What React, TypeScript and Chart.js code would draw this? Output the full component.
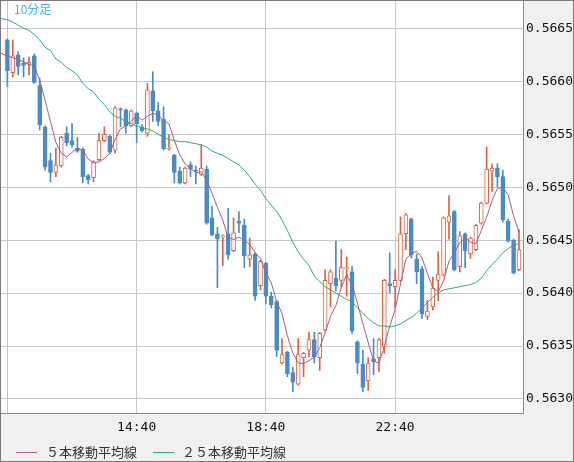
import React, { useEffect, useRef } from 'react';
import { Chart, registerables } from 'chart.js';

Chart.register(...registerables);

const chartTitle = '10分足';
const legendLabels = ['５本移動平均線', '２５本移動平均線'];
const xTickIndex = [0, 24, 48, 72];
const xTickLabels = ['', '14:40', '18:40', '22:40'];
const yTicks = [0.563, 0.5635, 0.564, 0.5645, 0.565, 0.5655, 0.566, 0.5665];

const opens = [
  0.56639, 0.56608, 0.56625, 0.56617, 0.56616, 0.56624, 0.56596, 0.56557, 0.56525, 0.56514,
  0.5652, 0.56551, 0.56544, 0.56537, 0.56536, 0.56511, 0.56509, 0.56526, 0.56544, 0.56548,
  0.56535, 0.56574, 0.56573, 0.56558, 0.5657, 0.56557, 0.56551, 0.56591, 0.56572, 0.56564,
  0.56536, 0.5653, 0.56515, 0.56504, 0.56521, 0.56516, 0.56512, 0.56517, 0.56471, 0.56456,
  0.56453, 0.56456, 0.5644, 0.56468, 0.56464, 0.56432, 0.56437, 0.56407, 0.56428, 0.56397,
  0.56392, 0.56334, 0.56344, 0.56325, 0.56314, 0.56339, 0.56346, 0.56356, 0.56339, 0.56365,
  0.56409, 0.56414, 0.56412, 0.56423, 0.5642, 0.56354, 0.56333, 0.56317, 0.56338, 0.56339,
  0.56349, 0.56409, 0.56406, 0.56412, 0.56456, 0.5647, 0.56432, 0.56423, 0.56378, 0.56387,
  0.56412, 0.56417, 0.56467, 0.56477, 0.56425, 0.56456, 0.56437, 0.56441, 0.56466, 0.56485,
  0.56515, 0.56518, 0.5651, 0.56468, 0.5645, 0.56422,
];

const closes = [
  0.5661, 0.56624, 0.56614, 0.56615, 0.56618, 0.56599, 0.56559, 0.56519, 0.56514, 0.56521,
  0.56547, 0.56542, 0.5654, 0.56534, 0.5651, 0.56507, 0.56524, 0.56544, 0.5655, 0.56533,
  0.56575, 0.56573, 0.56558, 0.56572, 0.5656, 0.56553, 0.56592, 0.56572, 0.56562, 0.56536,
  0.56537, 0.56514, 0.56504, 0.56518, 0.56517, 0.56515, 0.56518, 0.56466, 0.56455, 0.56451,
  0.56454, 0.56436, 0.56457, 0.56466, 0.56435, 0.56436, 0.56397, 0.5643, 0.56397, 0.56389,
  0.56346, 0.56342, 0.56324, 0.56316, 0.56342, 0.56343, 0.56356, 0.5634, 0.56362, 0.56412,
  0.5642, 0.56407, 0.56424, 0.56424, 0.56364, 0.56334, 0.56311, 0.56334, 0.56335, 0.56356,
  0.56412, 0.56407, 0.56412, 0.56456, 0.56474, 0.56436, 0.5642, 0.5638, 0.56383, 0.56405,
  0.56418, 0.56471, 0.56473, 0.56422, 0.56454, 0.5644, 0.56452, 0.56464, 0.56485, 0.56517,
  0.56518, 0.5651, 0.56469, 0.56449, 0.56419, 0.56441,
];

const highs = [
  0.5664, 0.56639, 0.56628, 0.56622, 0.56623, 0.56626, 0.56603, 0.56558, 0.56532, 0.56537,
  0.56548, 0.56557, 0.5656, 0.56547, 0.56537, 0.56512, 0.56525, 0.56551, 0.56557, 0.56549,
  0.56576, 0.56575, 0.56574, 0.56573, 0.56571, 0.56559, 0.56598, 0.56609, 0.5658, 0.56576,
  0.5655, 0.56531, 0.56519, 0.56519, 0.56524, 0.5652, 0.5654, 0.5652, 0.56482, 0.56462,
  0.56455, 0.5648, 0.56471, 0.56477, 0.5647, 0.56452, 0.56438, 0.56431, 0.56429, 0.56401,
  0.56393, 0.56357, 0.56345, 0.5633, 0.56357, 0.56344, 0.56363, 0.56363, 0.56363, 0.56422,
  0.56422, 0.56449, 0.56441, 0.56434, 0.56425, 0.56355, 0.56346, 0.56339, 0.56357, 0.56357,
  0.56413, 0.56438, 0.56422, 0.56472, 0.56475, 0.56471, 0.56437, 0.56425, 0.56393, 0.56415,
  0.56439, 0.56472, 0.56492, 0.56478, 0.56458, 0.56457, 0.56453, 0.56465, 0.56486, 0.56538,
  0.56522, 0.56522, 0.56516, 0.5647, 0.56451, 0.5646,
];

const lows = [
  0.56595, 0.56604, 0.56606, 0.56604, 0.56606, 0.56598, 0.56554, 0.56516, 0.56505, 0.5651,
  0.56519, 0.56539, 0.56538, 0.56533, 0.56504, 0.56503, 0.56505, 0.56525, 0.56543, 0.56532,
  0.56532, 0.56557, 0.56551, 0.56557, 0.56542, 0.56552, 0.56548, 0.56562, 0.56558, 0.56535,
  0.56535, 0.56504, 0.56503, 0.56503, 0.5651, 0.56503, 0.56511, 0.56465, 0.56454, 0.56405,
  0.56426, 0.56432, 0.56439, 0.56457, 0.56424, 0.56425, 0.56393, 0.56403, 0.5639, 0.56386,
  0.5634, 0.56333, 0.56321, 0.56307, 0.56313, 0.56321, 0.5634, 0.56334, 0.56327, 0.56364,
  0.56387, 0.56402, 0.56406, 0.56397, 0.56362, 0.56324, 0.56307, 0.56308, 0.56323, 0.56326,
  0.56343, 0.564, 0.56386, 0.56411, 0.56441, 0.56433, 0.56409, 0.56376, 0.56375, 0.56384,
  0.56393, 0.56416, 0.56451, 0.56421, 0.5642, 0.56424, 0.56433, 0.5644, 0.56465, 0.56484,
  0.56496, 0.565, 0.56467, 0.56448, 0.56418, 0.56421,
];

// 5-period MA values before enough closes are on screen (indices -2..3)
const ma5Lead = [0.56628, 0.56626, 0.56624, 0.56622, 0.56621, 0.56618];

// 25-period MA, indices -2..95
const ma25 = [
  0.5666, 0.56659, 0.56658, 0.56656, 0.56653, 0.5665, 0.56648, 0.56644, 0.56639, 0.56632,
  0.56629, 0.56621, 0.56618, 0.56613, 0.5661, 0.56606, 0.56598, 0.56593, 0.5659, 0.56583,
  0.56578, 0.56571, 0.56567, 0.56565, 0.56562, 0.5656, 0.56558, 0.56556, 0.56555, 0.56553,
  0.5655, 0.56547, 0.56545, 0.56544, 0.56543, 0.56543, 0.56542, 0.56541, 0.5654, 0.56538,
  0.56534, 0.56532, 0.5653, 0.56527, 0.56524, 0.56521, 0.56516, 0.5651, 0.56503, 0.56497,
  0.56489, 0.56483, 0.56477, 0.56469, 0.56459, 0.56448, 0.56439, 0.56432, 0.56426, 0.56416,
  0.56411, 0.56406, 0.56403, 0.564, 0.56397, 0.56394, 0.56392, 0.56386, 0.56381, 0.56376,
  0.56372, 0.56369, 0.56369, 0.56368, 0.56369, 0.56371, 0.56374, 0.56377, 0.56381, 0.56386,
  0.56391, 0.56396, 0.564, 0.56403, 0.56404, 0.56405, 0.56406, 0.56407, 0.56408, 0.5641,
  0.56414, 0.56421, 0.56427, 0.56432, 0.56438, 0.56442, 0.56445, 0.56447,
];

const UP = '#de6242';
const DOWN = '#4a8bc3';
const MA5_COLOR = '#b05887';
const MA25_COLOR = '#26b078';
const TITLE_COLOR = '#3ab4f2';
const GRID = '#c8c8c8';
const AXIS_BORDER = '#8c8c8c';
const MONO = '"DejaVu Sans Mono", monospace';
const CJK = '"Noto Sans CJK JP", sans-serif';

const decorPlugin = {
  id: 'decor',
  beforeDraw(c: any) {
    const { ctx, width, height, chartArea: a } = c;
    ctx.save();
    ctx.fillStyle = '#f0f0f0';
    ctx.fillRect(0, 0, width, height);
    ctx.fillStyle = '#ffffff';
    ctx.fillRect(a.left, a.top, a.right - a.left, a.bottom - a.top);
    ctx.restore();
  },
  afterDraw(c: any) {
    const { ctx, width, height } = c;
    ctx.save();
    // title
    ctx.font = `12px ${CJK}`;
    ctx.fillStyle = TITLE_COLOR;
    ctx.textBaseline = 'middle';
    ctx.textAlign = 'left';
    ctx.fillText(chartTitle, 14, 9.5);
    // legend
    const lineX = [16, 153];
    const textX = [46, 182];
    const colors = [MA5_COLOR, MA25_COLOR];
    ctx.font = `13px ${CJK}`;
    legendLabels.forEach((lab, k) => {
      ctx.strokeStyle = colors[k];
      ctx.lineWidth = 1;
      ctx.beginPath();
      ctx.moveTo(lineX[k], 452.5);
      ctx.lineTo(lineX[k] + 21, 452.5);
      ctx.stroke();
      ctx.fillStyle = '#333333';
      ctx.fillText(lab, textX[k], 452.5);
    });
    // outer frame
    ctx.strokeStyle = '#7a7a7a';
    ctx.lineWidth = 1;
    ctx.strokeRect(0.5, 0.5, width - 1, height - 1);
    ctx.restore();
  },
};

export default function App() {
  const ref = useRef<HTMLCanvasElement>(null);

  useEffect(() => {
    document.body.style.margin = '0';
    const idx = opens.map((_, i) => i);
    const isUp = idx.map((i) => closes[i] >= opens[i]);
    const bodies = idx.map((i) => ({ x: i, y: [opens[i], closes[i]] }));
    const wicks = idx.map((i) => ({ x: i, y: [lows[i], highs[i]] }));
    const ma5Pts = [
      ...ma5Lead.map((v, k) => ({ x: k - 2, y: v })),
      ...idx
        .filter((i) => i >= 4)
        .map((i) => ({ x: i, y: closes.slice(i - 4, i + 1).reduce((s, v) => s + v, 0) / 5 })),
    ];
    const ma25Pts = ma25.map((v, k) => ({ x: k - 2, y: v }));

    const chart = new Chart(ref.current as HTMLCanvasElement, {
      type: 'bar',
      data: {
        datasets: [
          {
            type: 'line',
            label: legendLabels[1],
            data: ma25Pts,
            borderColor: MA25_COLOR,
            borderWidth: 1,
            pointRadius: 0,
            tension: 0,
            order: 0,
          } as any,
          {
            type: 'line',
            label: legendLabels[0],
            data: ma5Pts,
            borderColor: MA5_COLOR,
            borderWidth: 1,
            pointRadius: 0,
            tension: 0,
            order: 1,
          } as any,
          {
            type: 'bar',
            label: 'body',
            data: bodies,
            backgroundColor: idx.map((i) => (isUp[i] ? '#ffffff' : DOWN)),
            borderColor: idx.map((i) => (isUp[i] ? UP : DOWN)),
            borderWidth: 1,
            borderSkipped: false,
            barThickness: 4,
            minBarLength: 1,
            grouped: false,
            order: 2,
          } as any,
          {
            type: 'bar',
            label: 'wick',
            data: wicks,
            backgroundColor: idx.map((i) => (isUp[i] ? UP : DOWN)),
            borderWidth: 0,
            barThickness: 1,
            grouped: false,
            order: 3,
          } as any,
        ],
      },
      options: {
        responsive: false,
        animation: false,
        devicePixelRatio: 1,
        events: [],
        layout: { padding: { left: 1, top: 1, right: 0, bottom: 30 } },
        plugins: {
          legend: { display: false },
          tooltip: { enabled: false },
          title: { display: false },
        },
        scales: {
          x: {
            type: 'linear',
            min: -1.19,
            max: 95.75,
            offset: false,
            grid: { offset: false, color: GRID, drawTicks: false, lineWidth: 1 },
            border: { color: AXIS_BORDER },
            ticks: {
              autoSkip: false,
              maxRotation: 0,
              minRotation: 0,
              padding: 7,
              color: '#111111',
              font: { family: MONO, size: 13 },
              callback: (_v: any, i: number) => xTickLabels[i] ?? '',
            },
            afterBuildTicks: (s: any) => {
              s.ticks = xTickIndex.map((v) => ({ value: v }));
            },
            afterFit: (s: any) => {
              s.height = 19;
              s.paddingLeft = 0;
              s.paddingRight = 0;
            },
          },
          y: {
            type: 'linear',
            position: 'right',
            min: 0.5628678,
            max: 0.5667577,
            grid: { color: GRID, drawTicks: false, lineWidth: 1 },
            border: { color: AXIS_BORDER },
            ticks: {
              padding: 3,
              color: '#111111',
              font: { family: MONO, size: 13 },
              callback: (v: any) => Number(v).toFixed(4),
            },
            afterBuildTicks: (s: any) => {
              s.ticks = yTicks.map((v) => ({ value: v }));
            },
            afterFit: (s: any) => {
              s.width = 51;
              s.paddingTop = 0;
              s.paddingBottom = 0;
            },
          },
        },
      } as any,
      plugins: [decorPlugin],
    });
    return () => chart.destroy();
  }, []);

  return (
    <canvas
      ref={ref}
      width={574}
      height={462}
      style={{ display: 'block', width: 574, height: 462 }}
    />
  );
}
